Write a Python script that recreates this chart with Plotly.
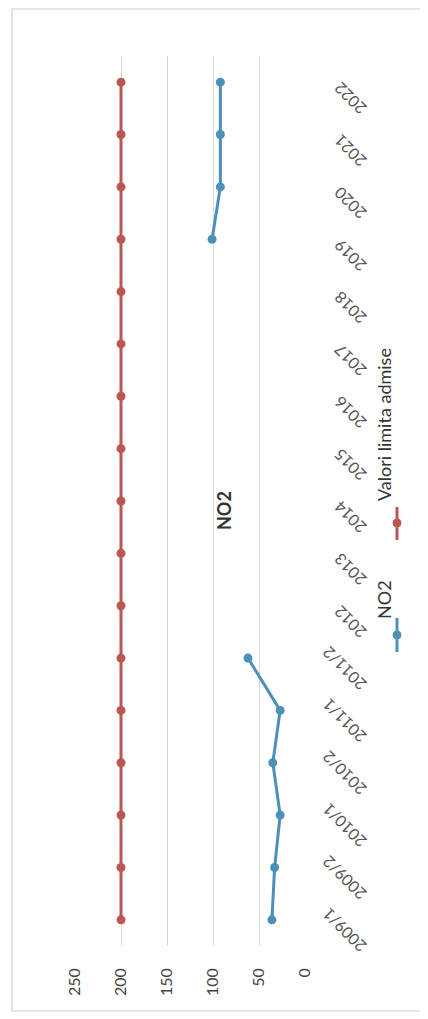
import plotly.graph_objects as go

categories = ["2009/1", "2009/2", "2010/1", "2010/2", "2011/1", "2011/2",
              "2012", "2013", "2014", "2015", "2016", "2017", "2018",
              "2019", "2020", "2021", "2022"]
no2_values = [36, 33, 27, 35, 27, 62,
              None, None, None, None, None, None, None,
              101, 92, 92, 92]
limit_values = [200] * 17
value_ticks = [0, 50, 100, 150, 200, 250]

# page body has an 8px margin, so the figure is offset by 8px in the window
OFF = 8
W, H = 428 - OFF, 1019 - OFF
L, R, T, B = 75 - OFF, 305 - OFF, 56 - OFF, 946 - OFF  # plot area (figure pixels)

def px(x):  # x given in window pixels
    return (x - OFF - L) / (R - L)

def py(y):  # y given in window pixels
    return (B - (y - OFF)) / (B - T)

RED = "#bb5652"
BLUE = "#4b90b8"
FONT = "Lato"

fig = go.Figure()
fig.add_trace(go.Scatter(x=no2_values, y=categories, mode="lines+markers",
                         name="NO2", line=dict(color=BLUE, width=3),
                         marker=dict(color=BLUE, size=9), connectgaps=False))
fig.add_trace(go.Scatter(x=limit_values, y=categories, mode="lines+markers",
                         name="Valori limita admise", line=dict(color=RED, width=3),
                         marker=dict(color=RED, size=9)))

fig.update_xaxes(range=[250, 0], tickvals=value_ticks, tickangle=-90,
                 showgrid=True, gridcolor="#d5d8e0", gridwidth=1,
                 zeroline=False, showline=False, ticks="", automargin=False,
                 ticklabelstandoff=18,
                 tickfont=dict(family=FONT, size=16, color="#444444"))
fig.update_yaxes(type="category", categoryorder="array", categoryarray=categories,
                 range=[-0.5, 16.5], side="right", tickangle=-135,
                 showgrid=False, zeroline=False, showline=False, ticks="",
                 automargin=False, ticklabelstandoff=56, ticklabelshift=33,
                 tickfont=dict(family=FONT, size=16, color="#555555"))

annotations = [
    dict(text="<b>NO2</b>", x=px(237), y=py(511), xref="paper", yref="paper",
         textangle=-90, showarrow=False, font=dict(family=FONT, size=18, color="#333333")),
    dict(text="Valori limita admise", x=px(397), y=py(425), xref="paper", yref="paper",
         textangle=-90, showarrow=False, font=dict(family=FONT, size=18, color="#333333")),
    dict(text="NO2", x=px(397), y=py(600), xref="paper", yref="paper",
         textangle=-90, showarrow=False, font=dict(family=FONT, size=18, color="#333333")),
]

shapes = [
    dict(type="rect", xref="paper", yref="paper", x0=px(12), x1=px(421),
         y0=py(1011), y1=py(9), line=dict(color="#cfcfcf", width=1.2), layer="above"),
    dict(type="line", xref="paper", yref="paper", x0=px(397), x1=px(397),
         y0=py(507), y1=py(540), line=dict(color=RED, width=3)),
    dict(type="circle", xref="paper", yref="paper", x0=px(393), x1=px(401),
         y0=py(527), y1=py(519), fillcolor=RED, line=dict(color=RED, width=1)),
    dict(type="line", xref="paper", yref="paper", x0=px(397), x1=px(397),
         y0=py(618), y1=py(652), line=dict(color=BLUE, width=3)),
    dict(type="circle", xref="paper", yref="paper", x0=px(393), x1=px(401),
         y0=py(639), y1=py(631), fillcolor=BLUE, line=dict(color=BLUE, width=1)),
]

fig.update_layout(width=W, height=H, showlegend=False,
                  margin=dict(l=L, r=W - R, t=T, b=H - B, pad=0, autoexpand=False),
                  paper_bgcolor="white", plot_bgcolor="white",
                  annotations=annotations, shapes=shapes,
                  font=dict(family=FONT))

fig.write_html("out.html")
